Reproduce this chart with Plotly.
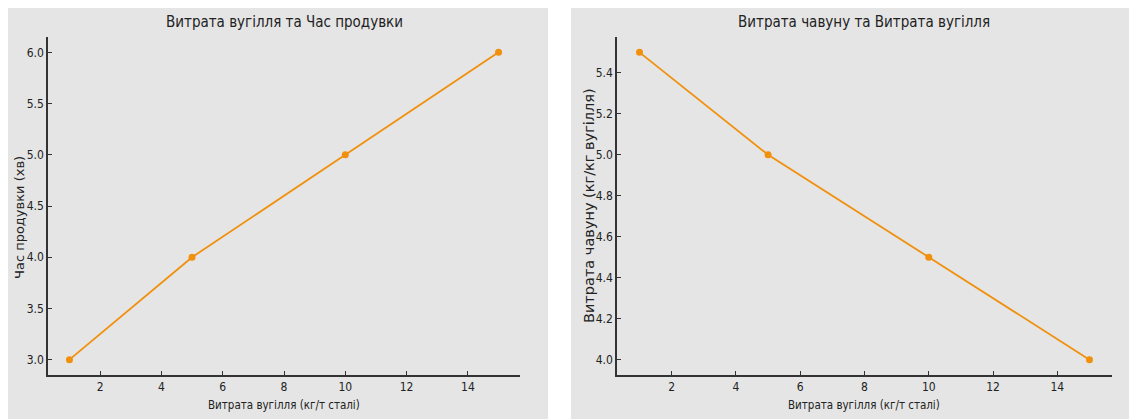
import plotly.graph_objects as go
from plotly.subplots import make_subplots

coal_use = [1, 5, 10, 15]
blow_time = [3.0, 4.0, 5.0, 6.0]
iron_use = [5.5, 5.0, 4.5, 4.0]

title_left = "Витрата вугілля та Час продувки"
title_right = "Витрата чавуну та Витрата вугілля"
xlabel = "Витрата вугілля (кг/т сталі)"
ylabel_left = "Час продувки (хв)"
ylabel_right = "Витрата чавуну (кг/кг вугілля)"

OFF = 8  # page body margin
W, H = 1137 - OFF, 419 - OFF
LINE = "#F0900C"
AX = "#333333"
COND = "DejaVu Sans Condensed, Liberation Sans Narrow, DejaVu Sans"

def px(x):
    return (x - OFF) / W

def py(y):
    return (H - (y - OFF)) / H

fig = make_subplots(rows=1, cols=2)
fig.add_trace(go.Scatter(x=coal_use, y=blow_time, mode="lines+markers",
                         line=dict(color=LINE, width=1.8),
                         marker=dict(color=LINE, size=7)), row=1, col=1)
fig.add_trace(go.Scatter(x=coal_use, y=iron_use, mode="lines+markers",
                         line=dict(color=LINE, width=1.8),
                         marker=dict(color=LINE, size=7)), row=1, col=2)

common = dict(showline=True, linecolor=AX, linewidth=1.5, mirror=False,
              showgrid=False, zeroline=False, ticks="inside", ticklen=4,
              tickcolor=AX, tickwidth=1,
              tickfont=dict(family=COND, size=12, color="#222"))

fig.update_xaxes(domain=[px(48), px(520)], range=[0.3, 15.7], tickvals=[2, 4, 6, 8, 10, 12, 14], row=1, col=1, **common)
fig.update_xaxes(domain=[px(617), px(1112)], range=[0.3, 15.7], tickvals=[2, 4, 6, 8, 10, 12, 14], row=1, col=2, **common)
fig.update_yaxes(domain=[py(375), py(37)], range=[2.85, 6.15], tickvals=[3.0, 3.5, 4.0, 4.5, 5.0, 5.5, 6.0], tickformat=".1f", row=1, col=1, **common)
fig.update_yaxes(domain=[py(375), py(37)], range=[3.925, 5.575], tickvals=[4.0, 4.2, 4.4, 4.6, 4.8, 5.0, 5.2, 5.4], tickformat=".1f", row=1, col=2, **common)

shapes = [
    dict(type="rect", xref="paper", yref="paper", x0=px(8), x1=px(548), y0=0, y1=1,
         fillcolor="#E5E5E5", line=dict(width=0), layer="below"),
    dict(type="rect", xref="paper", yref="paper", x0=px(571), x1=1, y0=0, y1=1,
         fillcolor="#E5E5E5", line=dict(width=0), layer="below"),
]

ann = [
    dict(text=title_left, x=px(284), y=py(22), font=dict(family=COND, size=15, color="#222")),
    dict(text=title_right, x=px(864), y=py(22), font=dict(family=COND, size=15, color="#222")),
    dict(text=xlabel, x=px(284), y=py(405), font=dict(family=COND, size=11.5, color="#222")),
    dict(text=xlabel, x=px(864), y=py(405), font=dict(family=COND, size=11.5, color="#222")),
    dict(text=ylabel_left, x=px(19), y=py(218), textangle=-90, font=dict(family="DejaVu Sans", size=13, color="#222")),
    dict(text=ylabel_right, x=px(589), y=py(206), textangle=-90, font=dict(family="DejaVu Sans", size=14.5, color="#222")),
]
for a in ann:
    a.update(xref="paper", yref="paper", showarrow=False, xanchor="center", yanchor="middle")

fig.update_layout(width=W, height=H, margin=dict(l=0, r=0, t=0, b=0),
                  paper_bgcolor="white", plot_bgcolor="rgba(0,0,0,0)",
                  showlegend=False, shapes=shapes, annotations=ann)

fig.write_html("out.html")
